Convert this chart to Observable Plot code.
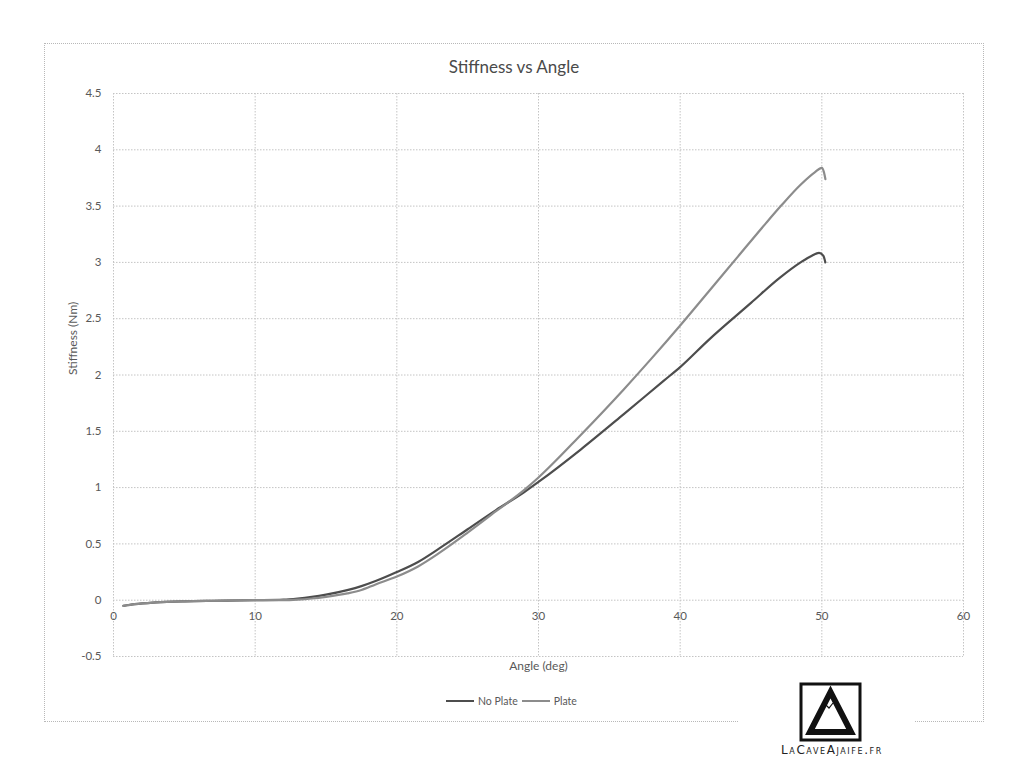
<!DOCTYPE html>
<html>
<head>
<meta charset="utf-8">
<script src="https://cdn.jsdelivr.net/npm/d3@7"></script>
<script src="https://cdn.jsdelivr.net/npm/@observablehq/plot@0.6"></script>
<style>
  html, body { margin: 0; padding: 0; background: #fff; }
  #wrap { position: relative; width: 1024px; height: 766px; overflow: hidden; font-family: Lato, "Open Sans", sans-serif; }
  #border { position: absolute; left: 44px; top: 43px; width: 940px; height: 679px; border: 1px dotted #b8b8b8; box-sizing: border-box; }
  #title { position: absolute; left: 44px; width: 940px; top: 56px; text-align: center; font-size: 17px; color: #4a4a4a; }
  #legend { position: absolute; left: 446px; top: 695px; font-size: 10.5px; color: #595959; display: flex; align-items: center; gap: 0; }
  .sw { display: inline-block; width: 28px; height: 0; margin-right: 4px; }
  #logo { position: absolute; left: 738px; top: 668px; width: 176px; height: 98px; background: #fff; }
  #chart { position: absolute; left: 0; top: 0; }
</style>
</head>
<body>
<div id="wrap">
  <div id="border"></div>
  <div id="chart"></div>
  <div id="title">Stiffness vs Angle</div>
  <div id="legend"></div>
  <div id="logo">
    <svg width="176" height="98" viewBox="0 0 176 98">
      <rect x="63" y="16" width="59" height="56" fill="none" stroke="#111" stroke-width="3"/>
      <polygon points="92.5,24 72,64 113,64" fill="none" stroke="#111" stroke-width="6" stroke-linejoin="miter"/>
      <polyline points="84,41 88,37 91,40 95,35" fill="none" stroke="#111" stroke-width="1.2"/>
      <text x="94" y="86" text-anchor="middle" font-family="DejaVu Sans, sans-serif" font-size="12" letter-spacing="1.6" font-variant="small-caps" fill="#222">LaCaveAjaife.fr</text>
    </svg>
  </div>
</div>
<script>
// ---- data ----
const seriesNames = ["No Plate", "Plate"];

const noPlateAngle = [0.7, 1.5, 3, 5, 7, 10, 12, 13, 14, 15, 16.5, 17.5, 18.5, 20, 21.5, 23, 25, 27, 29, 30, 33, 36, 38.85, 40, 42, 45, 47, 48.5, 49.3, 49.8, 50.1, 50.25];
const noPlateStiff = [-0.05, -0.035, -0.02, -0.01, -0.005, 0, 0.005, 0.015, 0.03, 0.05, 0.09, 0.125, 0.17, 0.25, 0.34, 0.46, 0.63, 0.80, 0.96, 1.05, 1.34, 1.65, 1.95, 2.07, 2.31, 2.64, 2.86, 3.00, 3.06, 3.085, 3.06, 3.00];

const plateAngle = [0.7, 1.5, 3, 5, 7, 10, 12, 13, 14, 15, 16.5, 17.5, 18.5, 20, 21.5, 23, 25, 27, 29, 30, 33, 36, 38, 40, 42, 44, 46, 47.1, 48.5, 49.5, 50, 50.15, 50.25];
const plateStiff = [-0.05, -0.035, -0.02, -0.01, -0.005, 0, 0, 0.005, 0.015, 0.03, 0.06, 0.09, 0.14, 0.21, 0.30, 0.42, 0.60, 0.79, 0.98, 1.09, 1.47, 1.87, 2.15, 2.44, 2.74, 3.04, 3.34, 3.50, 3.69, 3.80, 3.84, 3.80, 3.74];

const xTicks = [0, 10, 20, 30, 40, 50, 60];
const yTicks = [-0.5, 0, 0.5, 1, 1.5, 2, 2.5, 3, 3.5, 4, 4.5];

const seriesColors = ["#4d4d4d", "#8c8c8c"];

// ---- build table ----
const rows = [
  ...noPlateAngle.map((a, i) => ({series: seriesNames[0], angle: a, stiffness: noPlateStiff[i]})),
  ...plateAngle.map((a, i) => ({series: seriesNames[1], angle: a, stiffness: plateStiff[i]}))
];

const gridStyle = {stroke: "#c4c4c4", strokeOpacity: 1, strokeWidth: 1, strokeDasharray: "1.5,1.5"};
const textColor = "#595959";

const chart = Plot.plot({
  width: 1024,
  height: 766,
  marginLeft: 113,
  marginRight: 61,
  marginTop: 93,
  marginBottom: 110,
  style: {fontFamily: "Lato, 'Open Sans', sans-serif", background: "transparent"},
  x: {domain: [0, 60], ticks: xTicks, axis: null},
  y: {domain: [-0.5, 4.5], ticks: yTicks, axis: null},
  color: {domain: seriesNames, range: seriesColors},
  marks: [
    Plot.gridX(xTicks, gridStyle),
    Plot.gridY(yTicks, gridStyle),
    Plot.axisY(yTicks, {tickSize: 0, tickPadding: 12, fontSize: 11.5, fill: textColor, label: null, tickFormat: d => String(d)}),
    Plot.text(xTicks, {x: d => d, y: () => 0, dy: 16, text: d => String(d), fontSize: 11.5, fill: textColor}),
    Plot.text(["Stiffness (Nm)"], {frameAnchor: "left", dx: -40, rotate: -90, text: d => d, fontSize: 12, fill: textColor}),
    Plot.text(["Angle (deg)"], {frameAnchor: "bottom", dy: 13, text: d => d, fontSize: 12, fill: textColor}),
    Plot.line(rows, {x: "angle", y: "stiffness", z: "series", stroke: "series", strokeWidth: 2.2, curve: "monotone-x"})
  ]
});
document.getElementById("chart").appendChild(chart);

// legend
const legend = document.getElementById("legend");
seriesNames.forEach((name, i) => {
  const item = document.createElement("span");
  item.style.display = "inline-flex";
  item.style.alignItems = "center";
  item.style.marginRight = i === 0 ? "4px" : "0";
  const sw = document.createElement("span");
  sw.className = "sw";
  sw.style.borderTop = `2px solid ${seriesColors[i]}`;
  item.appendChild(sw);
  item.appendChild(document.createTextNode(name));
  legend.appendChild(item);
});
</script>
</body>
</html>
